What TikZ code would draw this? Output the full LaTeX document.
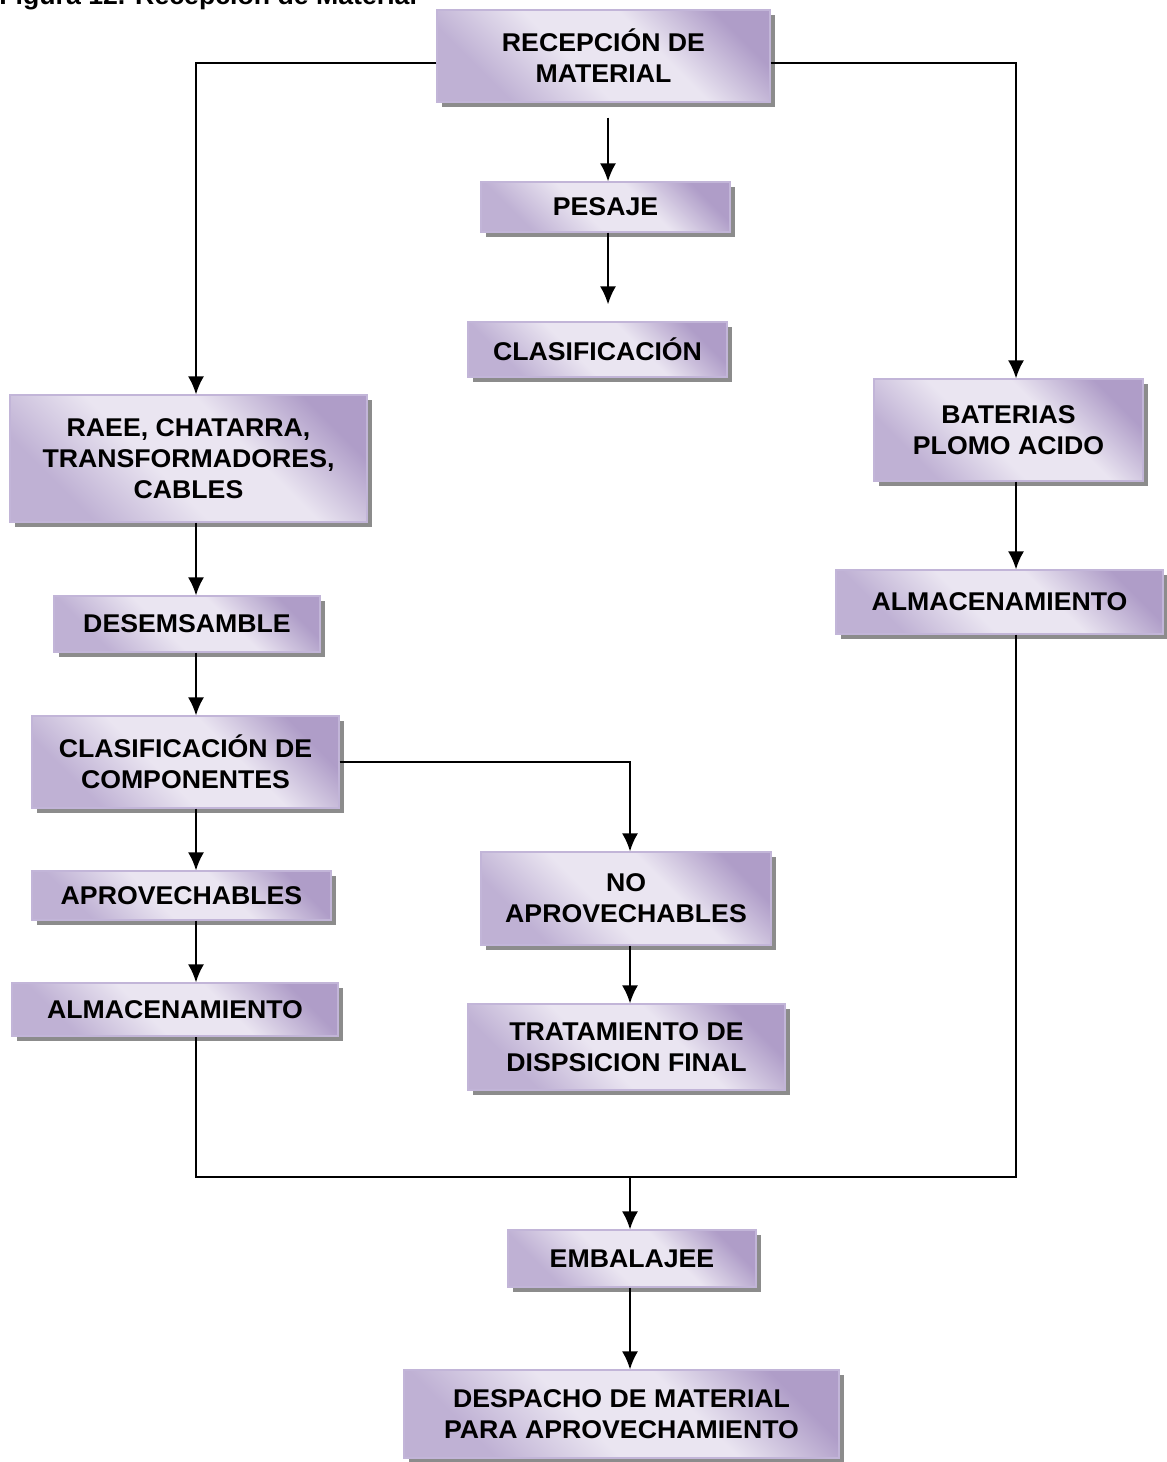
\documentclass[tikz,border=0pt]{standalone}
\usepackage{fontspec}
\setmainfont[FakeStretch=1.04]{Liberation Sans}
\usepackage{xcolor}
\usepackage{tikz}
\usetikzlibrary{arrows.meta,shadows,positioning}

\definecolor{boxlight}{HTML}{EAE5F1}
\definecolor{boxdark}{HTML}{AF9DC8}
\definecolor{boxmid}{HTML}{BFB1D4}
\definecolor{boxedge}{HTML}{C2B5D8}

% dark corners top right / bottom left, light band along the other diagonal
\pgfdeclareverticalshading{boxshade}{100bp}{color(0bp)=(boxmid); color(27bp)=(boxmid);
    color(44bp)=(boxlight); color(60bp)=(boxlight); color(76bp)=(boxdark); color(100bp)=(boxdark)}

\tikzset{
    box/.style={draw=boxedge, line width=0.7pt, shading=boxshade, shading angle=-45,
        align=center, inner sep=2pt,
        font=\bfseries\fontsize{14.6}{17.6}\selectfont,
        drop shadow={shadow xshift=0.1cm, shadow yshift=-0.1cm, fill=black!45, opacity=1}},
    line/.style={line width=1.1pt},
    flow/.style={line, -{Latex[length=0.36cm,width=0.32cm]}}
}

\begin{document}
\begin{tikzpicture}[x=0.02cm, y=-0.02cm]
        \useasboundingbox (0,0) rectangle (1166,1462);

        % caption, cut at the top edge
        \node[anchor=base west, inner sep=0pt, font=\bfseries\fontsize{14.6}{17.6}\selectfont] (titulo) at (-1,5) {Figura 12. Recepción de Material};

        % columns of the connectors
        \coordinate (colL) at (196,0);
        \coordinate (colT) at (608,0);
        \coordinate (colM) at (630,0);
        \coordinate (colR) at (1016,0);
        \coordinate (joinY) at (0,1177);

        \node[box, minimum width=6.66cm, minimum height=1.84cm] (recep) at (603.5,56) {RECEPCIÓN DE\\MATERIAL};
        \node[box, minimum width=4.98cm, minimum height=1.0cm] (pesaje) at (605.5,207) {PESAJE};
        \node[box, minimum width=5.18cm, minimum height=1.1cm] (clasif) at (597.5,349.5) {CLASIFICACIÓN};

        \node[box, minimum width=7.14cm, minimum height=2.54cm] (raee) at (188.5,458.5) {RAEE, CHATARRA,\\TRANSFORMADORES,\\CABLES};
        \node[box, minimum width=5.32cm, minimum height=1.12cm] (desem) at (187,624) {DESEMSAMBLE};
        \node[box, minimum width=6.14cm, minimum height=1.84cm] (clasifcomp) at (185.5,762) {CLASIFICACIÓN DE\\COMPONENTES};
        \node[box, minimum width=5.98cm, minimum height=0.98cm] (aprov) at (181.5,895.5) {APROVECHABLES};
        \node[box, minimum width=6.52cm, minimum height=1.06cm] (almacizq) at (175,1009.5) {ALMACENAMIENTO};

        \node[box, minimum width=5.8cm, minimum height=1.86cm] (noaprov) at (626,898.5) {NO\\APROVECHABLES};
        \node[box, minimum width=6.34cm, minimum height=1.72cm] (trat) at (626.5,1047) {TRATAMIENTO DE\\DISPSICION FINAL};

        \node[box, minimum width=5.38cm, minimum height=2.04cm] (baterias) at (1008.5,430) {BATERIAS\\PLOMO ACIDO};
        \node[box, minimum width=6.54cm, minimum height=1.28cm] (almacder) at (999.5,602) {ALMACENAMIENTO};

        \node[box, minimum width=4.96cm, minimum height=1.14cm] (embal) at (632,1258.5) {EMBALAJEE};
        \node[box, minimum width=8.7cm, minimum height=1.76cm] (despacho) at (621.5,1414) {DESPACHO DE MATERIAL\\PARA APROVECHAMIENTO};

        % branches out of the reception
        \draw[flow] ([yshift=-0.14cm]recep.west) -| (raee.north -| colL);
        \draw[flow] ([yshift=-0.14cm]recep.east) -| (baterias.north -| colR);
        \draw[flow, shorten <=0.3cm] (recep.south -| colT) -- (pesaje.north -| colT);
        \draw[flow, shorten >=0.34cm] (pesaje.south -| colT) -- (clasif.north -| colT);

        % left column
        \draw[flow] (raee.south -| colL) -- (desem.north -| colL);
        \draw[flow] (desem.south -| colL) -- (clasifcomp.north -| colL);
        \draw[flow] (clasifcomp.south -| colL) -- (aprov.north -| colL);
        \draw[flow] (aprov.south -| colL) -- (almacizq.north -| colL);
        \draw[flow] (clasifcomp.east) -| (noaprov.north -| colM);
        \draw[flow] (noaprov.south -| colM) -- (trat.north -| colM);

        % right column
        \draw[flow] (baterias.south -| colR) -- (almacder.north -| colR);

        % both storages join before packing
        \draw[line] (almacder.south -| colR) |- (joinY -| colL) -- (almacizq.south -| colL);
        \draw[flow] (joinY -| colM) -- (embal.north -| colM);
        \draw[flow] (embal.south -| colM) -- (despacho.north -| colM);
    \end{tikzpicture}
\end{document}
